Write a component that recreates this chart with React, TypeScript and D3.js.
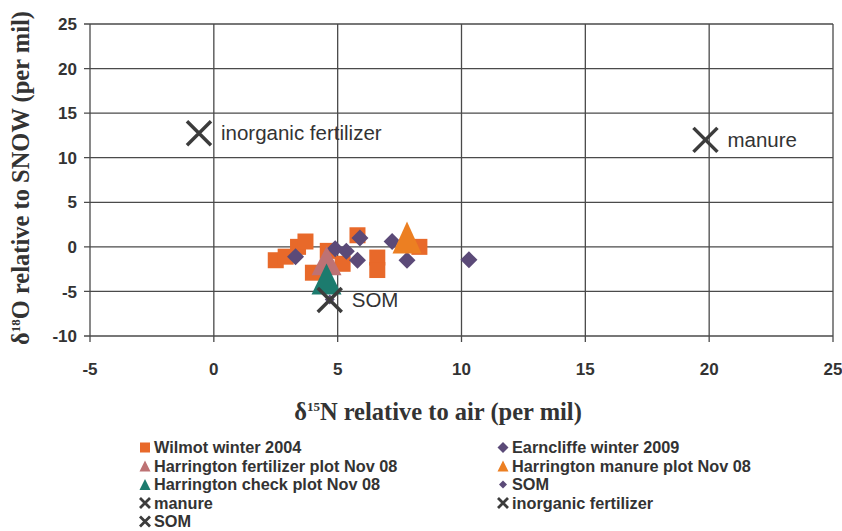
import { useEffect, useRef } from "react";
import * as d3 from "d3";

type Pt = [number, number];

// Wilmot winter 2004 (squares)
const wilmot: Pt[] = [
  [2.5, -1.5], [2.9, -1.1], [3.4, 0.0], [3.7, 0.6], [4.6, -0.45],
  [4.0, -2.9], [5.2, -1.9], [5.8, 1.3], [6.6, -1.2], [6.6, -2.6], [8.3, 0.0],
];
// Earncliffe winter 2009 (diamonds)
const earncliffe: Pt[] = [
  [3.3, -1.1], [4.9, -0.2], [5.35, -0.5], [5.9, 1.0], [5.8, -1.5],
  [7.2, 0.6], [7.8, -1.5], [10.3, -1.45],
];
const harringtonFert: Pt[] = [[4.55, -1.55]];
const harringtonManure: Pt[] = [[7.8, 1.05]];
const harringtonCheck: Pt[] = [[4.55, -3.6]];
const somPoints: Pt[] = [[4.68, -5.9]];

// end-members drawn as X with labels
const endMembers = [
  { name: "inorganic fertilizer", x: -0.6, y: 12.75 },
  { name: "manure", x: 19.85, y: 12.0 },
  { name: "SOM", x: 4.68, y: -5.95 },
];

const xTicks = [-5, 0, 5, 10, 15, 20, 25];
const yTicks = [-10, -5, 0, 5, 10, 15, 20, 25];

const COL = {
  wilmot: "#e8692a",
  earn: "#5b4a78",
  fert: "#bd7274",
  manure: "#ec7f22",
  check: "#1c7b6e",
  x: "#3c3c3c",
  grid: "#4a4a4a",
  text: "#333333",
};

const legendItems = [
  { label: "Wilmot winter 2004", kind: "square", color: COL.wilmot },
  { label: "Earncliffe winter 2009", kind: "diamond", color: COL.earn },
  { label: "Harrington fertilizer plot Nov 08", kind: "triangle", color: COL.fert },
  { label: "Harrington manure plot Nov 08", kind: "triangle", color: COL.manure },
  { label: "Harrington check plot Nov 08", kind: "triangle", color: COL.check },
  { label: "SOM", kind: "smalldiamond", color: COL.earn },
  { label: "manure", kind: "x", color: COL.x },
  { label: "inorganic fertilizer", kind: "x", color: COL.x },
  { label: "SOM", kind: "x", color: COL.x },
];

const W = 842;
const H = 531;
const PLOT = { left: 90, right: 833, top: 24, bottom: 336 };

function triPath(cx: number, cy: number, w: number, h: number) {
  return `M${cx},${cy - h / 2}L${cx + w / 2},${cy + h / 2}L${cx - w / 2},${cy + h / 2}Z`;
}
function diaPath(cx: number, cy: number, r: number) {
  return `M${cx},${cy - r}L${cx + r},${cy}L${cx},${cy + r}L${cx - r},${cy}Z`;
}
function xPath(cx: number, cy: number, r: number) {
  return `M${cx - r},${cy - r}L${cx + r},${cy + r}M${cx + r},${cy - r}L${cx - r},${cy + r}`;
}

export default function App() {
  const svgRef = useRef<SVGSVGElement>(null);

  useEffect(() => {
    const svg = d3.select(svgRef.current!);
    svg.selectAll("*").remove();

    const x = d3.scaleLinear().domain([-5, 25]).range([PLOT.left, PLOT.right]);
    const y = d3.scaleLinear().domain([-10, 25]).range([PLOT.bottom, PLOT.top]);

    svg.append("rect").attr("width", W).attr("height", H).attr("fill", "#fff");

    // grid
    const g = svg.append("g");
    g.selectAll("line.h")
      .data(yTicks)
      .enter()
      .append("line")
      .attr("x1", PLOT.left - 6)
      .attr("x2", PLOT.right)
      .attr("y1", (d) => y(d))
      .attr("y2", (d) => y(d))
      .attr("stroke", COL.grid)
      .attr("stroke-width", 1.3);
    g.selectAll("line.v")
      .data(xTicks)
      .enter()
      .append("line")
      .attr("x1", (d) => x(d))
      .attr("x2", (d) => x(d))
      .attr("y1", PLOT.top)
      .attr("y2", PLOT.bottom + 6)
      .attr("stroke", COL.grid)
      .attr("stroke-width", 1.3);

    // tick labels
    svg
      .append("g")
      .selectAll("text")
      .data(yTicks)
      .enter()
      .append("text")
      .attr("x", PLOT.left - 13)
      .attr("y", (d) => y(d))
      .attr("dy", "0.36em")
      .attr("text-anchor", "end")
      .attr("font-family", "Liberation Sans, Arial, sans-serif")
      .attr("font-weight", "bold")
      .attr("font-size", 17)
      .attr("fill", COL.text)
      .text((d) => d);
    svg
      .append("g")
      .selectAll("text")
      .data(xTicks)
      .enter()
      .append("text")
      .attr("x", (d) => x(d))
      .attr("y", PLOT.bottom + 39)
      .attr("text-anchor", "middle")
      .attr("font-family", "Liberation Sans, Arial, sans-serif")
      .attr("font-weight", "bold")
      .attr("font-size", 17)
      .attr("fill", COL.text)
      .text((d) => d);

    // axis titles
    const xt = svg
      .append("text")
      .attr("x", 438)
      .attr("y", 420)
      .attr("text-anchor", "middle")
      .attr("font-family", "Liberation Serif, Times New Roman, serif")
      .attr("font-weight", "bold")
      .attr("font-size", 24.5)
      .attr("fill", COL.text);
    xt.append("tspan").text("δ");
    xt.append("tspan").attr("font-size", 13).attr("dy", -9).text("15");
    xt.append("tspan").attr("dy", 9).text("N relative to air (per mil)");

    const yt = svg
      .append("text")
      .attr("transform", `translate(29,${178}) rotate(-90)`)
      .attr("text-anchor", "middle")
      .attr("font-family", "Liberation Serif, Times New Roman, serif")
      .attr("font-weight", "bold")
      .attr("font-size", 24.5)
      .attr("fill", COL.text);
    yt.append("tspan").text("δ");
    yt.append("tspan").attr("font-size", 13).attr("dy", -9).text("18");
    yt.append("tspan").attr("dy", 9).text("O relative to SNOW (per mil)");

    // data
    const pts = svg.append("g");
    pts
      .selectAll("rect")
      .data(wilmot)
      .enter()
      .append("rect")
      .attr("x", (d) => x(d[0]) - 8)
      .attr("y", (d) => y(d[1]) - 8)
      .attr("width", 16)
      .attr("height", 16)
      .attr("fill", COL.wilmot);
    pts
      .selectAll("path.e")
      .data(earncliffe)
      .enter()
      .append("path")
      .attr("d", (d) => diaPath(x(d[0]), y(d[1]), 8.5))
      .attr("fill", COL.earn);
    pts
      .selectAll("path.s")
      .data(somPoints)
      .enter()
      .append("path")
      .attr("d", (d) => diaPath(x(d[0]), y(d[1]), 5))
      .attr("fill", COL.earn);

    const tri = (data: Pt[], color: string, w: number, h: number) =>
      pts
        .append("g")
        .selectAll("path")
        .data(data)
        .enter()
        .append("path")
        .attr("d", (d) => triPath(x(d[0]), y(d[1]), w, h))
        .attr("fill", color);
    tri(harringtonManure, COL.manure, 29, 32);
    tri(harringtonFert, COL.fert, 30, 29);
    tri(harringtonCheck, COL.check, 30, 31);

    // end-members
    const em = svg.append("g");
    endMembers.forEach((m) => {
      em.append("path")
        .attr("d", xPath(x(m.x), y(m.y), 12))
        .attr("stroke", COL.x)
        .attr("stroke-width", 3.5)
        .attr("fill", "none");
      em.append("text")
        .attr("x", x(m.x) + 22)
        .attr("y", y(m.y))
        .attr("dy", "0.35em")
        .attr("font-family", "Liberation Sans, Arial, sans-serif")
        .attr("font-size", 20.5)
        .attr("fill", COL.text)
        .text(m.name);
    });

    // legend
    const lg = svg.append("g");
    legendItems.forEach((item, i) => {
      const col = i % 2;
      const row = Math.floor(i / 2);
      const mx = col === 0 ? 145 : 503;
      const my = 447.5 + row * 18.5;
      if (item.kind === "square")
        lg.append("rect").attr("x", mx - 5).attr("y", my - 5).attr("width", 10).attr("height", 10).attr("fill", item.color);
      else if (item.kind === "triangle")
        lg.append("path").attr("d", triPath(mx, my, 11, 11)).attr("fill", item.color);
      else if (item.kind === "diamond")
        lg.append("path").attr("d", diaPath(mx, my, 5.5)).attr("fill", item.color);
      else if (item.kind === "smalldiamond")
        lg.append("path").attr("d", diaPath(mx, my, 4)).attr("fill", item.color);
      else
        lg.append("path").attr("d", xPath(mx, my, 5)).attr("stroke", item.color).attr("stroke-width", 2.8).attr("fill", "none");
      lg.append("text")
        .attr("x", mx + 9)
        .attr("y", my)
        .attr("dy", "0.36em")
        .attr("font-family", "Liberation Sans, Arial, sans-serif")
        .attr("font-weight", "bold")
        .attr("font-size", 16.3)
        .attr("fill", COL.text)
        .text(item.label);
    });
  }, []);

  return (
    <svg
      ref={svgRef}
      width={W}
      height={H}
      style={{ position: "fixed", left: 0, top: 0, display: "block" }}
    />
  );
}
